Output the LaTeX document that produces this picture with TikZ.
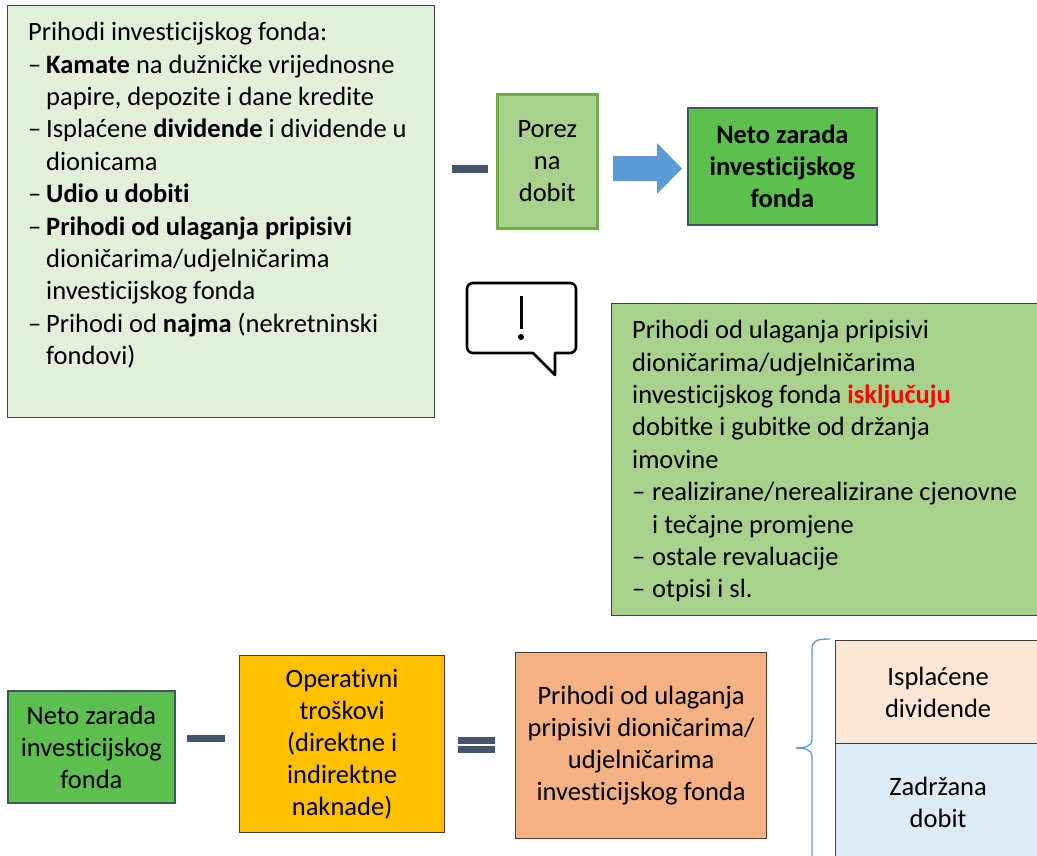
\documentclass[tikz,border=0pt]{standalone}
\usepackage{fontspec}
\setmainfont{Carlito}[Ligatures={NoCommon,NoRare,NoContextual}]
\definecolor{lgreen}{HTML}{E2EFDA}
\definecolor{mgreen}{HTML}{A9D18E}
\definecolor{bgreen}{HTML}{70AD47}
\definecolor{dgreen}{HTML}{5CBF4F}
\definecolor{slate}{HTML}{44546A}
\definecolor{darr}{HTML}{5B9BD5}
\definecolor{gold}{HTML}{FFC000}
\definecolor{peach}{HTML}{F4B183}
\definecolor{lpeach}{HTML}{FBE5D6}
\definecolor{lblue}{HTML}{DEEBF7}
\definecolor{edge}{HTML}{404040}
\newcommand{\dsh}{\makebox[18pt][l]{–}}
\newcommand{\ind}{\hspace*{18pt}}
\newcommand{\dshb}{\makebox[20pt][l]{–}}
\newcommand{\indb}{\hspace*{20pt}}
\begin{document}
\begin{tikzpicture}[x=1pt,y=-1pt,
  box/.style={draw=edge,line width=1.2pt,anchor=north west,inner sep=0pt,align=center,
    font=\fontsize{26.5}{32}\selectfont},
  txt/.style={anchor=north west,inner sep=0pt,align=left,font=\fontsize{26.5}{32.4}\selectfont},
  opbar/.style={fill=slate,draw=none}]
\useasboundingbox (0,0) rectangle (1037,855);
% top-left box
\node[box,fill=lgreen,minimum width=427,minimum height=412] (inc) at (7,5) {};
\node[txt] (inctxt) at (28,22) {Prihodi investicijskog fonda:\\
\dsh\textbf{Kamate} na dužničke vrijednosne\\
\ind papire, depozite i dane kredite\\
\dsh Isplaćene \textbf{dividende} i dividende u\\
\ind dionicama\\
\dsh\textbf{Udio u dobiti}\\
\dsh\textbf{Prihodi od ulaganja pripisivi}\\
\ind dioničarima/udjelničarima\\
\ind investicijskog fonda\\
\dsh Prihodi od \textbf{najma} (nekretninski\\
\ind fondovi)};
% minus
\node[opbar,minimum width=36,minimum height=8,inner sep=0,anchor=north west] (m1) at (452,165) {};
% porez
\node[box,fill=mgreen,draw=bgreen,line width=2.5pt,minimum width=100,minimum height=134] (tax) at (496,93) {Porez\\na\\dobit};
% neto top
\node[box,fill=dgreen,draw=slate,line width=1.8pt,minimum width=189,minimum height=117,font=\fontsize{26.5}{32}\selectfont\bfseries] (net1) at (687,107) {\rule{0pt}{6pt}Neto zarada\\investicijskog\\fonda};
% block arrow
\fill[darr] (613,156) -- (657,156) -- (657,143) -- (682,168.5) -- (657,194) -- (657,181) -- (613,181) -- cycle;
% callout
\draw[line width=2.6pt,line join=round] (520,283) [rounded corners=6] -- (576,283) -- (576,353) [sharp corners] -- (555,353) -- (555,375) -- (533,353) [rounded corners=6] -- (467,353) -- (467,283) [sharp corners] -- (520,283);
\draw[line width=3pt] (521,296) -- (521,329);
\fill (521,337) circle (3);
% green note box
\node[box,fill=mgreen,minimum width=430,minimum height=312] (note) at (611,303) {};
\node[txt] (notetxt) at (632,320) {Prihodi od ulaganja pripisivi\\
dioničarima/udjelničarima\\
investicijskog fonda \textcolor{red}{\textbf{isključuju}}\\
dobitke i gubitke od držanja\\
imovine\\
\dshb realizirane/nerealizirane cjenovne\\
\indb i tečajne promjene\\
\dshb ostale revaluacije\\
\dshb otpisi i sl.};
% bottom row
\node[box,fill=dgreen,draw=slate,line width=1.8pt,minimum width=167,minimum height=112] (net2) at (7,690) {Neto zarada\\investicijskog\\fonda};
\node[opbar,minimum width=38,minimum height=7,inner sep=0,anchor=north west] (m2) at (187,735) {};
\node[box,fill=gold,minimum width=205,minimum height=177] (opc) at (239,655) {Operativni\\troškovi\\(direktne i\\indirektne\\naknade)};
\node[opbar,minimum width=37,minimum height=6.5,inner sep=0,anchor=north west] (eq1) at (458,737) {};
\node[opbar,minimum width=37,minimum height=6.5,inner sep=0,anchor=north west] (eq2) at (458,746) {};
\node[box,fill=peach,minimum width=251,minimum height=186] (res) at (515,652) {Prihodi od ulaganja\\pripisivi dioničarima/\\udjelničarima\\investicijskog fonda};
% brace
\draw[darr,line width=1.3pt] (830,639) .. controls (816,639) and (812,641) .. (812,650) -- (812,740) .. controls (812,746) and (805,748) .. (796,748);
\draw[darr,line width=1.3pt] (796,748) .. controls (805,748) and (812,750) .. (812,756) -- (812,860);
% right stack
\node[box,fill=lpeach,minimum width=205,minimum height=103] (div) at (835,640) {Isplaćene\\dividende};
\node[box,fill=lblue,minimum width=205,minimum height=117] (ret) at (835,743) {Zadržana\\dobit};
\end{tikzpicture}
\end{document}
